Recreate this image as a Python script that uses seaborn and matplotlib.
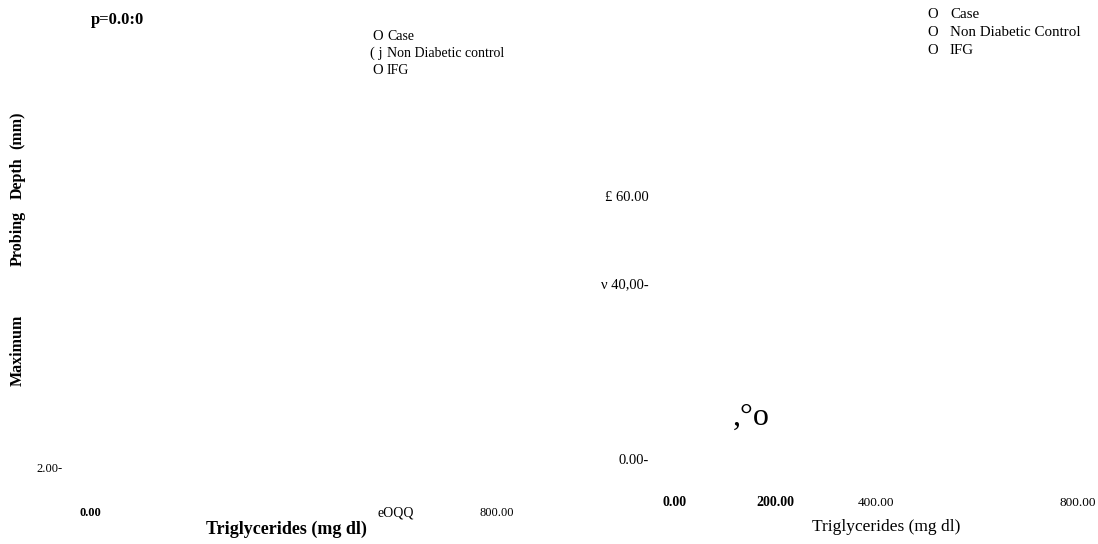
import matplotlib
matplotlib.use('Agg')
import matplotlib.pyplot as plt
import seaborn as sns

# Texts (scanned figure, garbled labels kept as they are)
groups_left = ['Case', 'Non Diabetic control', 'IFG']
symbols_left = ['O', '( j', 'O']
groups_right = ['Case', 'Non Diabetic Control', 'IFG']
symbols_right = ['O', 'O', 'O']

left_xticks = [0, 600, 800]
left_xticklabels = ['0.00', 'eOQQ', '800.00']
left_yticks = [2]
left_yticklabels = ['2.00-']

right_xticks = [0, 200, 400, 800]
right_xticklabels = ['0.00', '200.00', '400.00', '800.00']
right_yticks = [0, 40, 60]
right_yticklabels = ['0.00-', 'ν 40,00-', '£ 60.00']

ylabel_words = ['(mm)', 'Depth', 'Probing', 'Maximum']
p_label = 'p=0.0:0'
stray_mark = ',°o'
stray_xy = (152, 9.4)

sns.set_theme(style='white')
plt.rcParams['font.family'] = ['Liberation Serif', 'DejaVu Sans']
plt.rcParams.update({'text.color': 'black', 'axes.labelcolor': 'black',
                     'xtick.color': 'black', 'ytick.color': 'black'})

W, H = 1098, 544
fig = plt.figure(figsize=(W / 100, H / 100), dpi=100)


def box(x0, y_bottom, w, h):
    # pixel box (top-left origin) -> figure fraction
    return [x0 / W, (H - y_bottom) / H, w / W, h / H]


def px(x, y):
    return x / W, 1 - y / H


# left panel
ax1 = fig.add_axes(box(90, 476, 407, 263))
ax1.set_xlim(0, 800)
ax1.set_ylim(0, 60)
ax1.set_xticks(left_xticks)
ax1.set_xticklabels(left_xticklabels)
ax1.set_yticks(left_yticks)
ax1.set_yticklabels(left_yticklabels)
ax1.tick_params(axis='x', length=0, pad=22, labelsize=9)
ax1.tick_params(axis='y', length=0, pad=20, labelsize=9)
ax1.get_xticklabels()[0].set_fontweight('bold')
ax1.get_xticklabels()[1].set_fontsize(10)
ax1.set_xlabel('Triglycerides (mg dl)', fontsize=13, fontweight='bold')
ax1.xaxis.set_label_coords((286 - 90) / 407, -(529 - 476) / 263)
ax1.xaxis.label.set_va('center')
sns.despine(ax=ax1, left=True, bottom=True)

# right panel
ax2 = fig.add_axes(box(675, 459, 403, 263))
ax2.set_xlim(0, 800)
ax2.set_ylim(0, 60)
ax2.set_xticks(right_xticks)
ax2.set_xticklabels(right_xticklabels)
ax2.set_yticks(right_yticks)
ax2.set_yticklabels(right_yticklabels)
ax2.tick_params(axis='x', length=0, pad=27, labelsize=9.5)
ax2.tick_params(axis='y', length=0, pad=19, labelsize=10.5)
for lab in ax2.get_xticklabels()[:2]:
    lab.set_fontweight('bold')
    lab.set_fontsize(10)
ax2.set_xlabel('Triglycerides (mg dl)', fontsize=12.5)
ax2.xaxis.set_label_coords((886 - 675) / 403, -(527 - 459) / 263)
ax2.xaxis.label.set_va('center')
ax2.text(stray_xy[0], stray_xy[1], stray_mark, fontsize=23, ha='center', va='center')
sns.despine(ax=ax2, left=True, bottom=True)
for ax in (ax1, ax2):
    ax.set_facecolor('none')
    ax.grid(False)

# y label of the left panel, words spread like the scan
for word, yc in zip(ylabel_words, [130, 178, 238, 350]):
    fig.text(*px(18, yc), word, rotation=90, fontsize=11.5, fontweight='bold',
             ha='center', va='center')

# p value
fig.text(*px(91, 24), p_label, fontsize=12, fontweight='bold', ha='left', va='baseline')

# legends
for i, (s, g) in enumerate(zip(symbols_left, groups_left)):
    y = 37 + i * 16.5
    fig.text(*px(383, y), s, fontsize=10.5, ha='right', va='center')
    fig.text(*px(387, y), g, fontsize=10, ha='left', va='center')
for i, (s, g) in enumerate(zip(symbols_right, groups_right)):
    y = 14.5 + i * 18
    fig.text(*px(933, y), s, fontsize=10.5, ha='center', va='center')
    fig.text(*px(950, y), g, fontsize=10.8, ha='left', va='center')

fig.savefig('out.png', dpi=100, facecolor='white')
